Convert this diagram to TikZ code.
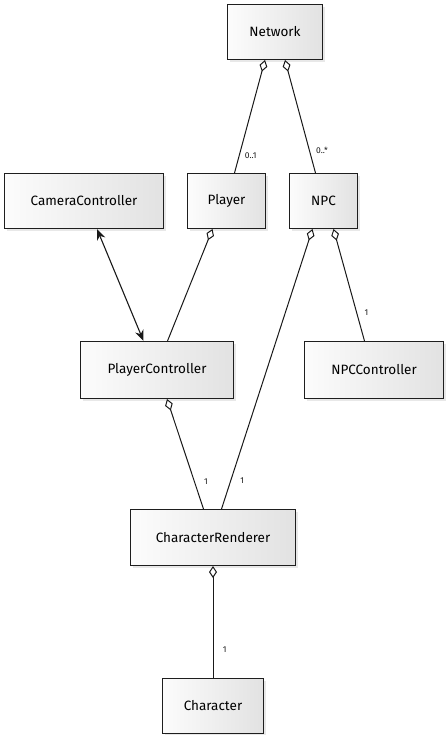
\documentclass[tikz,border=0pt]{standalone}
\usepackage{fontspec}
\setmainfont{Fira Sans}
\usepackage{xcolor}
\usepackage{tikz}
\usetikzlibrary{arrows.meta, positioning, calc, shadows}
\definecolor{classBorder}{RGB}{30, 30, 30}
\definecolor{classFillA}{RGB}{252, 252, 252}
\definecolor{classFillB}{RGB}{226, 226, 226}
\definecolor{linkColor}{RGB}{25, 25, 25}

\begin{document}
\begin{tikzpicture}[
    x=1pt, y=1pt,
    font=\fontsize{13.5}{15}\selectfont,
    classBox/.style={draw=classBorder, line width=1pt, left color=classFillA, right color=classFillB, minimum height=55pt, inner sep=4pt, drop shadow={opacity=0.18, shadow xshift=2.5pt, shadow yshift=-2.5pt}},
    aggLink/.style={{Diamond[fill=white, length=12pt, width=8pt]}-, line width=1pt, draw=linkColor},
    biLink/.style={{Stealth[length=11pt, width=9pt]}-{Stealth[length=11pt, width=9pt]}, line width=1.1pt, draw=linkColor},
    mult/.style={font=\fontsize{8.5}{10}\selectfont, text=linkColor}
]
    \useasboundingbox (0,0) rectangle (446,-735);

    % Nodes
    \node[classBox, minimum width=159pt, anchor=north west] (camera) at (4,-173) {CameraController};
    \node[classBox, minimum width=78pt, right=23pt of camera] (player) {Player};
    \node[classBox, minimum width=68pt, right=23pt of player] (npc) {NPC};

    \coordinate (top) at ($(player.north)!0.5!(npc.north)$);
    \node[classBox, minimum width=95pt, above=113pt of top] (network) {Network};

    \node[classBox, minimum width=153pt, minimum height=57pt, below=112pt of camera, xshift=73pt] (pctrl) {PlayerController};
    \node[classBox, minimum width=139pt, minimum height=57pt, right=70pt of pctrl] (nctrl) {NPCController};

    \node[classBox, minimum width=165pt, minimum height=56pt, below=110pt of pctrl, xshift=56pt] (renderer) {CharacterRenderer};
    \node[classBox, minimum width=101pt, below=112pt of renderer] (character) {Character};

    % Arrows
    \draw[aggLink] ($(network.south)+(-10,0)$) -- node[mult, pos=0.85, right=2pt] {0..1} ($(player.north)+(8,0)$);
    \draw[aggLink] ($(network.south)+(10,0)$) -- node[mult, pos=0.8, right=3pt] {0..*} ($(npc.north)+(-8,0)$);
    \draw[biLink] ($(camera.south)+(13,0)$) -- ($(pctrl.north)+(-13.5,0)$);
    \draw[aggLink] ($(player.south)+(-14,0)$) -- ($(pctrl.north)+(10.5,0)$);
    \draw[aggLink] ($(npc.south)+(10,0)$) -- node[mult, pos=0.75, right=4pt] {1} ($(nctrl.north)+(-9.5,0)$);
    \draw[aggLink] ($(npc.south)+(-11,0)$) -- node[mult, pos=0.9, right=6pt] {1} ($(renderer.north)+(8.5,0)$);
    \draw[aggLink] ($(pctrl.south)+(10,0)$) -- node[mult, pos=0.75, right=6pt] {1} ($(renderer.north)+(-9.5,0)$);
    \draw[aggLink] (renderer.south) -- node[mult, pos=0.75, right=6pt] {1} (character.north);

\end{tikzpicture}
\end{document}
